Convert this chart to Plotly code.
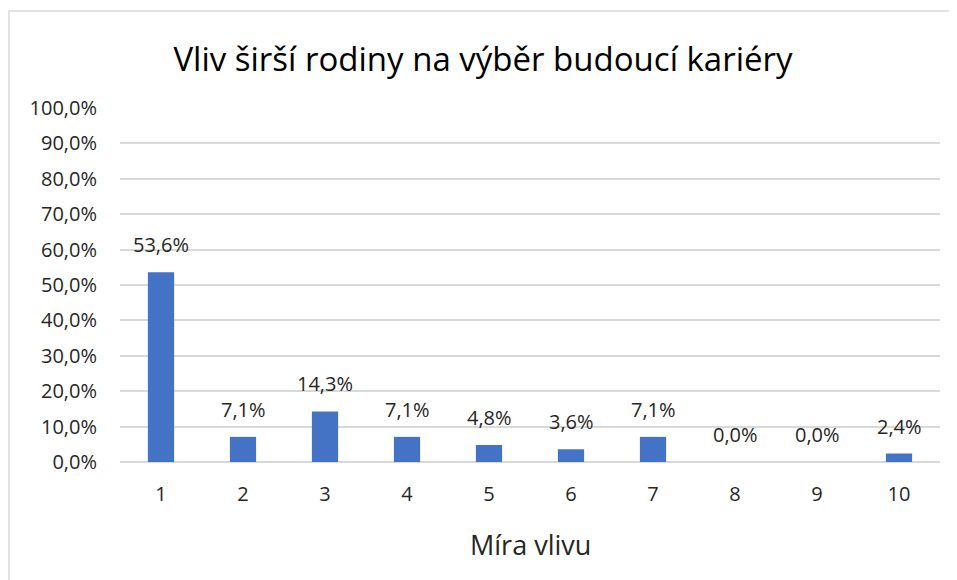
import plotly.graph_objects as go

categories = ["1", "2", "3", "4", "5", "6", "7", "8", "9", "10"]
values = [0.536, 0.071, 0.143, 0.071, 0.048, 0.036, 0.071, 0.0, 0.0, 0.024]
y_ticks = [0, 0.1, 0.2, 0.3, 0.4, 0.5, 0.6, 0.7, 0.8, 0.9, 1.0]

FONT = "'Open Sans', Lato, sans-serif"
BAR_COLOR = "#4472C4"
TXT = "#262626"

labels = [f"{v * 100:.1f}%".replace(".", ",") for v in values]

# page has an 8px body margin, so the figure is sized/offset to compensate
W, H = 949, 572
L, R, T, B = 112, 17, 100, 118
PW, PH = W - L - R, H - T - B

fig = go.Figure()
fig.add_trace(go.Bar(x=categories, y=values, marker_color=BAR_COLOR,
                     marker_line_width=0, width=0.32))

# data labels above bars
for i, (v, t) in enumerate(zip(values, labels)):
    fig.add_annotation(x=i, y=v, text=t, showarrow=False, yanchor="bottom",
                       yshift=12, font=dict(size=20, color=TXT, family=FONT))

# x axis title
fig.add_annotation(x=0.5, y=(H - B - 536) / PH, xref="paper", yref="paper",
                   text="Míra vlivu", showarrow=False, yanchor="middle",
                   font=dict(size=27, color=TXT, family=FONT))

border = dict(type="rect", xref="paper", yref="paper",
              x0=(1 - L) / PW, x1=(W + 30 - L) / PW,
              y0=(H - B - (H + 30)) / PH, y1=(H - B - 3) / PH,
              line=dict(color="#D9D9D9", width=1.5), fillcolor="rgba(0,0,0,0)",
              layer="below")

fig.update_layout(
    width=W, height=H,
    margin=dict(l=L, r=R, t=T, b=B),
    paper_bgcolor="white", plot_bgcolor="white",
    separators=", ",
    showlegend=False,
    shapes=[border],
    title=dict(text="Vliv širší rodiny na výběr budoucí kariéry",
               x=475 / W, xref="container", xanchor="center",
               y=1 - 51 / H, yref="container", yanchor="middle",
               font=dict(size=33, color="black", family=FONT)),
    xaxis=dict(type="category", showgrid=False, showline=False, ticks="",
               ticklabelstandoff=18,
               tickfont=dict(size=20, color=TXT, family=FONT)),
    yaxis=dict(range=[0, 1.0], tickvals=y_ticks, tickformat=".1%",
               showgrid=True, gridcolor="#D9D9D9", gridwidth=1.5,
               zeroline=True, zerolinecolor="#D9D9D9", zerolinewidth=1.5,
               showline=False, ticks="", ticklabelstandoff=22,
               tickfont=dict(size=20, color=TXT, family=FONT)),
)

fig.write_html("out.html")
